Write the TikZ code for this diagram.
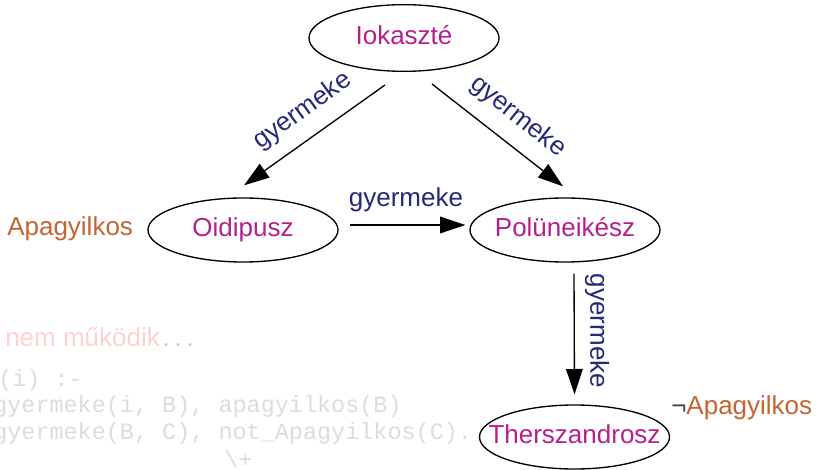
\documentclass[tikz,border=0pt]{standalone}
\usepackage{fontspec}
\setmainfont{Liberation Sans}
\setmonofont{Liberation Mono}
\usetikzlibrary{arrows.meta,shapes.geometric}
\definecolor{nodetxt}{RGB}{180,32,140}
\definecolor{lblcol}{RGB}{40,40,120}
\definecolor{orgcol}{RGB}{195,100,50}
\definecolor{pinkfaint}{RGB}{255,208,208}
\definecolor{codegray}{RGB}{220,220,220}
\definecolor{dotgray}{RGB}{205,205,205}
\definecolor{neggray}{RGB}{70,70,70}
\begin{document}
\begin{tikzpicture}[x=0.75pt,y=-0.75pt,
  person/.style={draw, ellipse, line width=1pt, minimum width=142.5pt, minimum height=48pt,
    inner sep=0pt, text=nodetxt, font=\fontsize{19.5pt}{23pt}\selectfont,
    text height=14pt, text depth=4pt},
  arr/.style={line width=1pt, -{Triangle[length=19pt,width=12.5pt]}},
  edgelbl/.style={text=lblcol, inner sep=0pt, font=\fontsize{19.5pt}{23pt}\selectfont},
  proplbl/.style={text=orgcol, inner sep=0pt, anchor=base west, font=\fontsize{19.5pt}{23pt}\selectfont},
  codeline/.style={text=codegray, inner sep=0pt, anchor=base west, font=\ttfamily\fontsize{17.6pt}{20pt}\selectfont}
]
\useasboundingbox (0,0) rectangle (816,470);

% faint background text
\node[anchor=base west, inner sep=0pt, font=\fontsize{19.5pt}{23pt}\selectfont] (nem) at (5,346)
  {\textcolor{pinkfaint}{nem működik}\textcolor{dotgray}{\kern2pt.\kern3.6pt.\kern3.6pt.}};
\node[codeline] (c1) at (-2,386) {(i) :-};
\node[codeline] (c2) at (-7,412) {gyermeke(i, B), apagyilkos(B)};
\node[codeline] (c3) at (-7,439) {gyermeke(B, C), not\_Apagyilkos(C).};
\node[codeline] (c4) at (224,467) {\textbackslash+};

% nodes
\node[person, minimum height=50pt] (iok) at (404,38) {\makebox[0pt]{Iokaszté}};
\node[person] (oid) at (243,230) {\makebox[0pt]{Oidipusz}};
\node[person] (pol) at (565,230) {\makebox[0pt]{Polüneikész}};
\node[person] (ther) at (574.5,437) {\makebox[0pt]{Therszandrosz}};

% property labels
\node[proplbl] (apa) at (7,235) {Apagyilkos};
\node[proplbl] (nonapa) at (671,414) {{\color{neggray}¬}Apagyilkos};

% connectors
\draw[arr] ([shift={(-19,13)}]iok.south) -- ([shift={(1,-12)}]oid.north);
\draw[arr] ([shift={(28,12)}]iok.south) -- ([shift={(-2,-11)}]pol.north);
\draw[arr] ([shift={(11,-5)}]oid.east) -- ([shift={(-4,-5)}]pol.west);
\draw[arr] ([shift={(9,11)}]pol.south) -- ([shift={(0,-10)}]ther.north);

% connector labels
\node[edgelbl, rotate=36] (l1) at (303,111) {gyermeke};
\node[edgelbl, rotate=-38.5] (l2) at (518,117) {gyermeke};
\node[edgelbl, anchor=base] (l3) at (406,206) {gyermeke};
\node[edgelbl, rotate=-90] (l4) at (597,331) {gyermeke};
\end{tikzpicture}
\end{document}
